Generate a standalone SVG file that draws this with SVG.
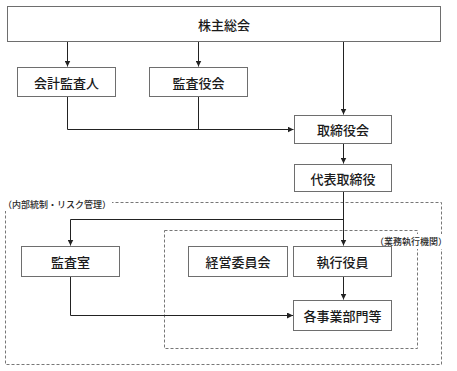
<svg xmlns="http://www.w3.org/2000/svg" width="457" height="371" viewBox="0 0 457 371">
<defs>
<style>
.box{fill:#fff;stroke:#6e6e6e;stroke-width:1}
.t{font-family:"Noto Sans CJK JP","Noto Sans CJK SC",sans-serif;font-size:13px;font-weight:500;fill:#1a1a1a;text-anchor:middle;dominant-baseline:central}
.lbl{font-family:"Noto Sans CJK JP","Noto Sans CJK SC",sans-serif;font-size:9px;font-weight:500;fill:#2a2a2a;dominant-baseline:central}
.dash{fill:none;stroke:#777;stroke-width:1;stroke-dasharray:3 2}
.c{fill:none;stroke:#222;stroke-width:1}
</style>
<marker id="ah" markerWidth="6" markerHeight="6" refX="6" refY="3" orient="auto" markerUnits="userSpaceOnUse">
<path d="M0,0 L6,3 L0,6 z" fill="#222"/>
</marker>
</defs>
<rect width="457" height="371" fill="#fff"/>
<g id="groups">
<rect class="dash" x="5.5" y="202.5" width="436" height="162"/>
<rect class="dash" x="164.5" y="230.5" width="253" height="118"/>
<rect x="0" y="196" width="112" height="15" fill="#fff"/>
<text class="lbl" x="3" y="204">（内部統制・リスク管理）</text>
<rect x="375" y="234" width="72" height="15" fill="#fff"/>
<text class="lbl" x="375" y="241">（業務執行機関）</text>
</g>
<g id="connectors">
<path class="c" d="M67.5,41 V66.5" marker-end="url(#ah)"/>
<path class="c" d="M198.5,41 V66.5" marker-end="url(#ah)"/>
<path class="c" d="M343.5,41 V114.5" marker-end="url(#ah)"/>
<path class="c" d="M67.5,96 V129.5 H293.5" marker-end="url(#ah)"/>
<path class="c" d="M198.5,96 V129.5"/>
<path class="c" d="M343.5,143 V163.5" marker-end="url(#ah)"/>
<path class="c" d="M343.5,191 V245.5" marker-end="url(#ah)"/>
<path class="c" d="M343.5,219.5 H70.5 V245.5" marker-end="url(#ah)"/>
<path class="c" d="M343.5,276 V299.5" marker-end="url(#ah)"/>
<path class="c" d="M70.5,276 V315.5 H293" marker-end="url(#ah)"/>
</g>
<g id="n-kabunushi"><rect class="box" x="7.5" y="6.5" width="433" height="35"/><text class="t" x="224" y="24">株主総会</text></g>
<g id="n-kaikei"><rect class="box" x="17.5" y="67.5" width="98" height="29"/><text class="t" x="66.5" y="82">会計監査人</text></g>
<g id="n-kansayaku"><rect class="box" x="149.5" y="67.5" width="98" height="29"/><text class="t" x="198.5" y="82">監査役会</text></g>
<g id="n-torishimariyakukai"><rect class="box" x="294.5" y="115.5" width="97" height="28"/><text class="t" x="343" y="129.5">取締役会</text></g>
<g id="n-daihyo"><rect class="box" x="294.5" y="164.5" width="97" height="27"/><text class="t" x="343" y="178">代表取締役</text></g>
<g id="n-kansashitsu"><rect class="box" x="21.5" y="246.5" width="98" height="30"/><text class="t" x="70.5" y="261.5">監査室</text></g>
<g id="n-keiei"><rect class="box" x="188.5" y="246.5" width="99" height="30"/><text class="t" x="238" y="261.5">経営委員会</text></g>
<g id="n-shikko"><rect class="box" x="293.5" y="246.5" width="98" height="30"/><text class="t" x="342.5" y="261.5">執行役員</text></g>
<g id="n-jigyo"><rect class="box" x="293.5" y="300.5" width="98" height="30"/><text class="t" x="342.5" y="315.5">各事業部門等</text></g>
</svg>
